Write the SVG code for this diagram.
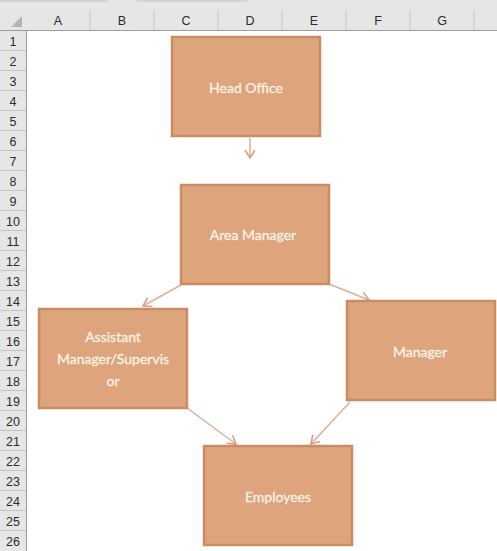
<svg xmlns="http://www.w3.org/2000/svg" width="497" height="551" viewBox="0 0 497 551">
<defs>
<style>
.hdr{font-family:"Liberation Sans",Arial,sans-serif;font-size:12.5px;fill:#2b2b2b;text-anchor:middle}
.node rect{fill:#dda47d;stroke:#cc8c62;stroke-width:2.5}
.node text{font-family:Lato,"Open Sans",sans-serif;font-size:14px;fill:#fcf0e4;stroke:#fcf0e4;stroke-width:0.35;text-anchor:middle}
.conn line{stroke:#ddb095;stroke-width:1.5;fill:none}
</style>
<marker id="arr" markerUnits="userSpaceOnUse" markerWidth="14" markerHeight="14" refX="9" refY="6" orient="auto" viewBox="0 0 14 12">
<path d="M1,1 L9,6 L1,11" fill="none" stroke="#d4a282" stroke-width="1.6"/>
</marker>
</defs>
<rect x="0" y="0" width="497" height="551" fill="#ffffff"/>
<g id="sheet-header">
<rect x="0" y="0" width="497" height="30" fill="#e6e6e6"/>
<rect x="0" y="30" width="26" height="521" fill="#e6e6e6"/>
<rect x="0" y="0" width="107" height="2" fill="#d2d2d2"/>
<rect x="137" y="0" width="110" height="2" fill="#d2d2d2"/>
<polygon points="22,16 22,27 11,27" fill="#b4b4b4"/>
<g stroke="#c4c4c4" stroke-width="1">
<line x1="90" y1="10" x2="90" y2="30"/><line x1="154" y1="10" x2="154" y2="30"/><line x1="218" y1="10" x2="218" y2="30"/><line x1="282" y1="10" x2="282" y2="30"/><line x1="346" y1="10" x2="346" y2="30"/><line x1="410" y1="10" x2="410" y2="30"/><line x1="474" y1="10" x2="474" y2="30"/>
<line x1="0" y1="50.5" x2="26" y2="50.5"/><line x1="0" y1="70.5" x2="26" y2="70.5"/><line x1="0" y1="90.5" x2="26" y2="90.5"/><line x1="0" y1="110.5" x2="26" y2="110.5"/><line x1="0" y1="130.5" x2="26" y2="130.5"/><line x1="0" y1="150.5" x2="26" y2="150.5"/><line x1="0" y1="170.5" x2="26" y2="170.5"/><line x1="0" y1="190.5" x2="26" y2="190.5"/><line x1="0" y1="210.5" x2="26" y2="210.5"/><line x1="0" y1="230.5" x2="26" y2="230.5"/><line x1="0" y1="250.5" x2="26" y2="250.5"/><line x1="0" y1="270.5" x2="26" y2="270.5"/><line x1="0" y1="290.5" x2="26" y2="290.5"/><line x1="0" y1="310.5" x2="26" y2="310.5"/><line x1="0" y1="330.5" x2="26" y2="330.5"/><line x1="0" y1="350.5" x2="26" y2="350.5"/><line x1="0" y1="370.5" x2="26" y2="370.5"/><line x1="0" y1="390.5" x2="26" y2="390.5"/><line x1="0" y1="410.5" x2="26" y2="410.5"/><line x1="0" y1="430.5" x2="26" y2="430.5"/><line x1="0" y1="450.5" x2="26" y2="450.5"/><line x1="0" y1="470.5" x2="26" y2="470.5"/><line x1="0" y1="490.5" x2="26" y2="490.5"/><line x1="0" y1="510.5" x2="26" y2="510.5"/><line x1="0" y1="530.5" x2="26" y2="530.5"/>
</g>
<line x1="0" y1="30.5" x2="497" y2="30.5" stroke="#9e9e9e"/>
<line x1="26.5" y1="30" x2="26.5" y2="551" stroke="#9e9e9e"/>
<text class="hdr" x="58" y="25">A</text><text class="hdr" x="122" y="25">B</text><text class="hdr" x="186" y="25">C</text><text class="hdr" x="250" y="25">D</text><text class="hdr" x="314" y="25">E</text><text class="hdr" x="378" y="25">F</text><text class="hdr" x="442" y="25">G</text>
<text class="hdr" x="13" y="46">1</text><text class="hdr" x="13" y="66">2</text><text class="hdr" x="13" y="86">3</text><text class="hdr" x="13" y="106">4</text><text class="hdr" x="13" y="126">5</text><text class="hdr" x="13" y="146">6</text><text class="hdr" x="13" y="166">7</text><text class="hdr" x="13" y="186">8</text><text class="hdr" x="13" y="206">9</text><text class="hdr" x="13" y="226">10</text><text class="hdr" x="13" y="246">11</text><text class="hdr" x="13" y="266">12</text><text class="hdr" x="13" y="286">13</text><text class="hdr" x="13" y="306">14</text><text class="hdr" x="13" y="326">15</text><text class="hdr" x="13" y="346">16</text><text class="hdr" x="13" y="366">17</text><text class="hdr" x="13" y="386">18</text><text class="hdr" x="13" y="406">19</text><text class="hdr" x="13" y="426">20</text><text class="hdr" x="13" y="446">21</text><text class="hdr" x="13" y="466">22</text><text class="hdr" x="13" y="486">23</text><text class="hdr" x="13" y="506">24</text><text class="hdr" x="13" y="526">25</text><text class="hdr" x="13" y="546">26</text>
</g>
<g id="connectors" class="conn">
<line x1="250" y1="138" x2="250" y2="158" marker-end="url(#arr)"/>
<line x1="181" y1="285" x2="143" y2="306" marker-end="url(#arr)"/>
<line x1="329" y1="284" x2="369" y2="300" marker-end="url(#arr)"/>
<line x1="187" y1="408" x2="236" y2="444" marker-end="url(#arr)"/>
<line x1="350" y1="402" x2="311" y2="444" marker-end="url(#arr)"/>
</g>
<g id="head-office" class="node"><rect x="172" y="37" width="148" height="99"/><text x="246" y="93">Head Office</text></g>
<g id="area-manager" class="node"><rect x="181" y="185" width="148" height="99"/><text x="253" y="240">Area Manager</text></g>
<g id="assistant" class="node"><rect x="39" y="309" width="148" height="99"/><text x="113" y="342">Assistant</text><text x="113" y="364">Manager/Supervis</text><text x="113" y="386">or</text></g>
<g id="manager" class="node"><rect x="347" y="301" width="148" height="99"/><text x="420" y="357">Manager</text></g>
<g id="employees" class="node"><rect x="204" y="446" width="148" height="99"/><text x="278" y="502">Employees</text></g>
</svg>
